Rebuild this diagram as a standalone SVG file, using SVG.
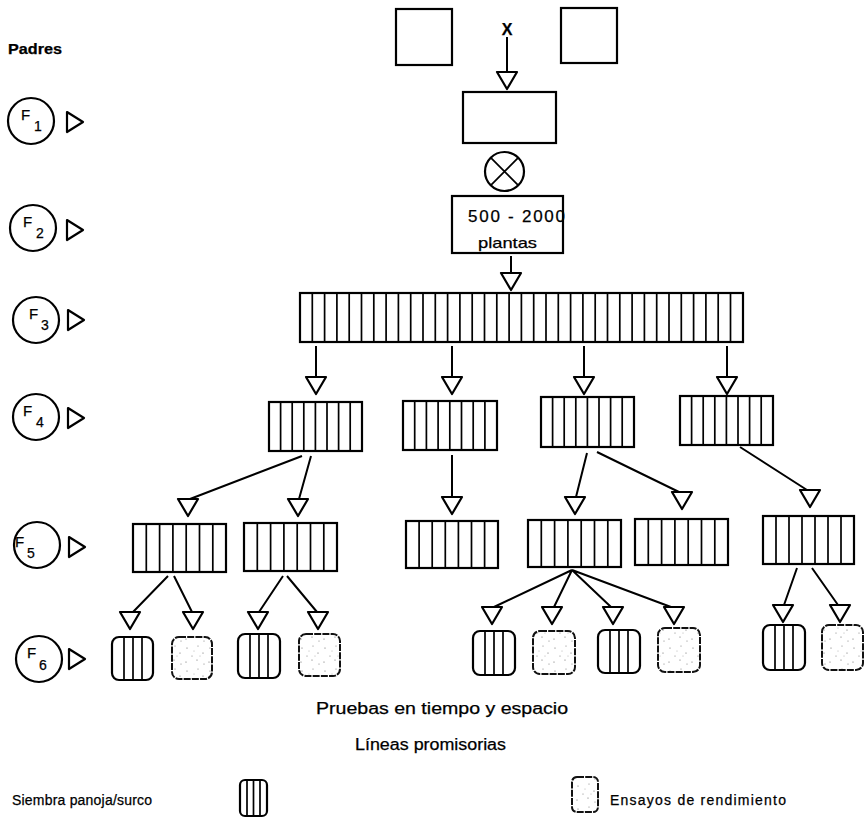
<svg xmlns="http://www.w3.org/2000/svg" xmlns:xlink="http://www.w3.org/1999/xlink" width="864" height="823" viewBox="0 0 864 823">
<style>
text{font-family:"Liberation Sans",Arial,sans-serif;fill:#000;stroke:#000;stroke-width:0.25}
.box{fill:#fff;stroke:#000;stroke-width:2.2}
.div{fill:none;stroke:#000;stroke-width:1.7}
.con{fill:none;stroke:#000;stroke-width:2}
.tri{fill:#fff;stroke:#000;stroke-width:2.2;stroke-linejoin:round}
.gen{fill:#fff;stroke:#000;stroke-width:2.2}
.gl{font-size:15px}
.gs{font-size:14px}
.f6s{fill:#fff;stroke:#000;stroke-width:2.2}
.f6d{fill:url(#stip);stroke:#111;stroke-width:2;stroke-dasharray:7 1.2}
.lbl{font-size:16px}
.leg{font-size:14px}
</style>
<defs>
<path id="tri" class="tri" d="M-10,0 L10,0 L0,17 Z"/>
<path id="rtri" class="tri" d="M0,-10 L16,0 L0,10 Z"/>
<pattern id="stip" width="23" height="23" patternUnits="userSpaceOnUse">
<rect width="23" height="23" fill="#fff"/>
<g fill="#666">
<circle cx="3" cy="4" r="0.6"/><circle cx="14" cy="2" r="0.5"/><circle cx="19" cy="9" r="0.6"/>
<circle cx="8" cy="12" r="0.5"/><circle cx="2" cy="18" r="0.6"/><circle cx="13" cy="16" r="0.6"/>
<circle cx="20" cy="20" r="0.5"/><circle cx="10" cy="7" r="0.4"/><circle cx="16" cy="12" r="0.4"/>
</g>
</pattern>
</defs>

<text x="8" y="54" font-size="14" font-weight="bold" textLength="54" lengthAdjust="spacingAndGlyphs">Padres</text>

<g id="gen-labels">
<g id="F1"><circle class="gen" cx="31" cy="121" r="23"/><text class="gl" x="21" y="120">F</text><text class="gs" x="34" y="131">1</text><use xlink:href="#rtri" x="67" y="122"/></g>
<g id="F2"><circle class="gen" cx="33" cy="228" r="23"/><text class="gl" x="23" y="227">F</text><text class="gs" x="36" y="238">2</text><use xlink:href="#rtri" x="67" y="230"/></g>
<g id="F3"><circle class="gen" cx="36" cy="320" r="23"/><text class="gl" x="29" y="319">F</text><text class="gs" x="41" y="330">3</text><use xlink:href="#rtri" x="68" y="320"/></g>
<g id="F4"><circle class="gen" cx="36" cy="417" r="23"/><text class="gl" x="23" y="416">F</text><text class="gs" x="36" y="427">4</text><use xlink:href="#rtri" x="68" y="418"/></g>
<g id="F5"><circle class="gen" cx="37" cy="545" r="23"/><text class="gl" x="15" y="547">F</text><text class="gs" x="27" y="558">5</text><use xlink:href="#rtri" x="69" y="547"/></g>
<g id="F6"><circle class="gen" cx="39" cy="659" r="23"/><text class="gl" x="27" y="658">F</text><text class="gs" x="39" y="670">6</text><use xlink:href="#rtri" x="69" y="659"/></g>
</g>

<g id="parent1"><rect class="box" x="396" y="9" width="56" height="56"/></g>
<g id="parent2"><rect class="box" x="561" y="8" width="56" height="55"/></g>
<text x="507" y="35" font-size="16" font-weight="bold" text-anchor="middle">X</text>
<g id="f1-box"><rect class="box" x="463" y="92" width="93" height="51"/></g>
<g id="selfing"><circle cx="504.5" cy="171.5" r="19.5" fill="#fff" stroke="#000" stroke-width="2.2"/><path d="M490.7,157.7 L518.3,185.3 M518.3,157.7 L490.7,185.3" class="div" stroke-width="2"/></g>
<g id="f2-box"><rect class="box" x="452" y="196" width="111" height="57"/>
<text x="468" y="222" font-size="17" textLength="97" lengthAdjust="spacing">500 - 2000</text>
<text x="478" y="248" font-size="15" textLength="59" lengthAdjust="spacingAndGlyphs">plantas</text></g>

<g id="f3-bar"><rect class="box" x="300" y="293" width="443" height="49"/>
<path class="div" d="M312.3 293v49m12.3-49v49m12.3-49v49m12.3-49v49m12.3-49v49m12.3-49v49m12.3-49v49m12.3-49v49m12.3-49v49m12.3-49v49m12.3-49v49m12.3-49v49m12.3-49v49m12.3-49v49m12.3-49v49m12.3-49v49m12.3-49v49m12.3-49v49m12.3-49v49m12.3-49v49m12.3-49v49m12.3-49v49m12.3-49v49m12.3-49v49m12.3-49v49m12.3-49v49m12.3-49v49m12.3-49v49m12.3-49v49m12.3-49v49m12.3-49v49m12.3-49v49m12.3-49v49m12.3-49v49m12.3-49v49"/></g>

<g id="f4-1"><rect class="box" x="269" y="402" width="93" height="49"/><path class="div" d="M280.6 402v49m11.6-49v49m11.6-49v49m11.6-49v49m11.6-49v49m11.6-49v49m11.6-49v49"/></g>
<g id="f4-2"><rect class="box" x="403" y="401" width="94" height="49"/><path class="div" d="M414.7 401v49m11.7-49v49m11.7-49v49m11.7-49v49m11.7-49v49m11.7-49v49m11.7-49v49"/></g>
<g id="f4-3"><rect class="box" x="541" y="397" width="93" height="50"/><path class="div" d="M552.6 397v50m11.6-50v50m11.6-50v50m11.6-50v50m11.6-50v50m11.6-50v50m11.6-50v50"/></g>
<g id="f4-4"><rect class="box" x="680" y="396" width="93" height="49"/><path class="div" d="M691.6 396v49m11.6-49v49m11.6-49v49m11.6-49v49m11.6-49v49m11.6-49v49m11.6-49v49"/></g>

<g id="f5-1"><rect class="box" x="133" y="524" width="93" height="48"/><path class="div" d="M146.3 524v48m13.3-48v48m13.3-48v48m13.3-48v48m13.3-48v48m13.3-48v48"/></g>
<g id="f5-2"><rect class="box" x="244" y="523" width="93" height="48"/><path class="div" d="M257.3 523v48m13.3-48v48m13.3-48v48m13.3-48v48m13.3-48v48m13.3-48v48"/></g>
<g id="f5-3"><rect class="box" x="406" y="521" width="92" height="47"/><path class="div" d="M419.1 521v47m13.1-47v47m13.1-47v47m13.1-47v47m13.1-47v47m13.1-47v47"/></g>
<g id="f5-4"><rect class="box" x="528" y="520" width="93" height="47"/><path class="div" d="M541.3 520v47m13.3-47v47m13.3-47v47m13.3-47v47m13.3-47v47m13.3-47v47"/></g>
<g id="f5-5"><rect class="box" x="635" y="519" width="93" height="46"/><path class="div" d="M648.3 519v46m13.3-46v46m13.3-46v46m13.3-46v46m13.3-46v46m13.3-46v46"/></g>
<g id="f5-6"><rect class="box" x="763" y="516" width="91" height="48"/><path class="div" d="M776 516v48m13-48v48m13-48v48m13-48v48m13-48v48m13-48v48"/></g>

<g id="f6-1"><rect class="f6s" x="112" y="637" width="41" height="43" rx="7"/><path class="div" d="M124 637v43m9-43v43m9-43v43"/></g>
<g id="f6-2"><rect class="f6d" x="172" y="637" width="40" height="42" rx="7"/></g>
<g id="f6-3"><rect class="f6s" x="238" y="634" width="42" height="44" rx="7"/><path class="div" d="M250 634v44m9-44v44m9-44v44"/></g>
<g id="f6-4"><rect class="f6d" x="299" y="634" width="41" height="42" rx="7"/></g>
<g id="f6-5"><rect class="f6s" x="473" y="631" width="42" height="44" rx="7"/><path class="div" d="M485 631v44m9-44v44m9-44v44"/></g>
<g id="f6-6"><rect class="f6d" x="533" y="631" width="42" height="43" rx="7"/></g>
<g id="f6-7"><rect class="f6s" x="598" y="630" width="42" height="43" rx="7"/><path class="div" d="M610 630v43m9-43v43m9-43v43"/></g>
<g id="f6-8"><rect class="f6d" x="658" y="628" width="42" height="44" rx="7"/></g>
<g id="f6-9"><rect class="f6s" x="763" y="625" width="42" height="45" rx="7"/><path class="div" d="M775 625v45m9-45v45m9-45v45"/></g>
<g id="f6-10"><rect class="f6d" x="822" y="625" width="41" height="45" rx="7"/></g>

<g id="connectors">
<path class="con" d="M507,37 V72 M511,256 V273 M316,346 V377 M452,346 V377 M584,346 V377 M727,346 V377
M302,456 L190,499 M311,456 L299,499 M452,455 V497 M587,453 L576,497 M597,452 L679,492 M740,447 L807,490
M168,576 L133,612 M174,576 L192,612 M283,576 L259,612 M287,576 L317,612
M572,570 L494,607 M572,570 L554,607 M572,570 L611,607 M572,570 L671,607
M797,568 L784,605 M812,568 L838,605"/>
<use xlink:href="#tri" x="507" y="72"/>
<use xlink:href="#tri" x="511" y="273"/>
<use xlink:href="#tri" x="316" y="377"/>
<use xlink:href="#tri" x="452" y="377"/>
<use xlink:href="#tri" x="584" y="377"/>
<use xlink:href="#tri" x="727" y="377"/>
<use xlink:href="#tri" x="188" y="499"/>
<use xlink:href="#tri" x="298" y="499"/>
<use xlink:href="#tri" x="452" y="497"/>
<use xlink:href="#tri" x="575" y="497"/>
<use xlink:href="#tri" x="682" y="492"/>
<use xlink:href="#tri" x="810" y="490"/>
<use xlink:href="#tri" x="130" y="612"/>
<use xlink:href="#tri" x="193" y="612"/>
<use xlink:href="#tri" x="258" y="612"/>
<use xlink:href="#tri" x="318" y="612"/>
<use xlink:href="#tri" x="492" y="607"/>
<use xlink:href="#tri" x="552" y="607"/>
<use xlink:href="#tri" x="613" y="607"/>
<use xlink:href="#tri" x="674" y="607"/>
<use xlink:href="#tri" x="783" y="605"/>
<use xlink:href="#tri" x="840" y="605"/>
</g>

<text class="lbl" x="316" y="714" textLength="252" lengthAdjust="spacingAndGlyphs">Pruebas en tiempo y espacio</text>
<text class="lbl" x="355" y="750" textLength="151" lengthAdjust="spacingAndGlyphs">Líneas promisorias</text>

<g id="legend">
<text class="leg" x="12" y="805" textLength="140" lengthAdjust="spacing">Siembra panoja/surco</text>
<rect class="f6s" x="240" y="780" width="27" height="36" rx="5"/><path class="div" d="M247 780v36m6.5-36v36m6.5-36v36"/>
<rect class="f6d" x="572" y="777" width="26" height="35" rx="5"/>
<text class="leg" x="610" y="805" textLength="176" lengthAdjust="spacing">Ensayos de rendimiento</text>
</g>
</svg>
